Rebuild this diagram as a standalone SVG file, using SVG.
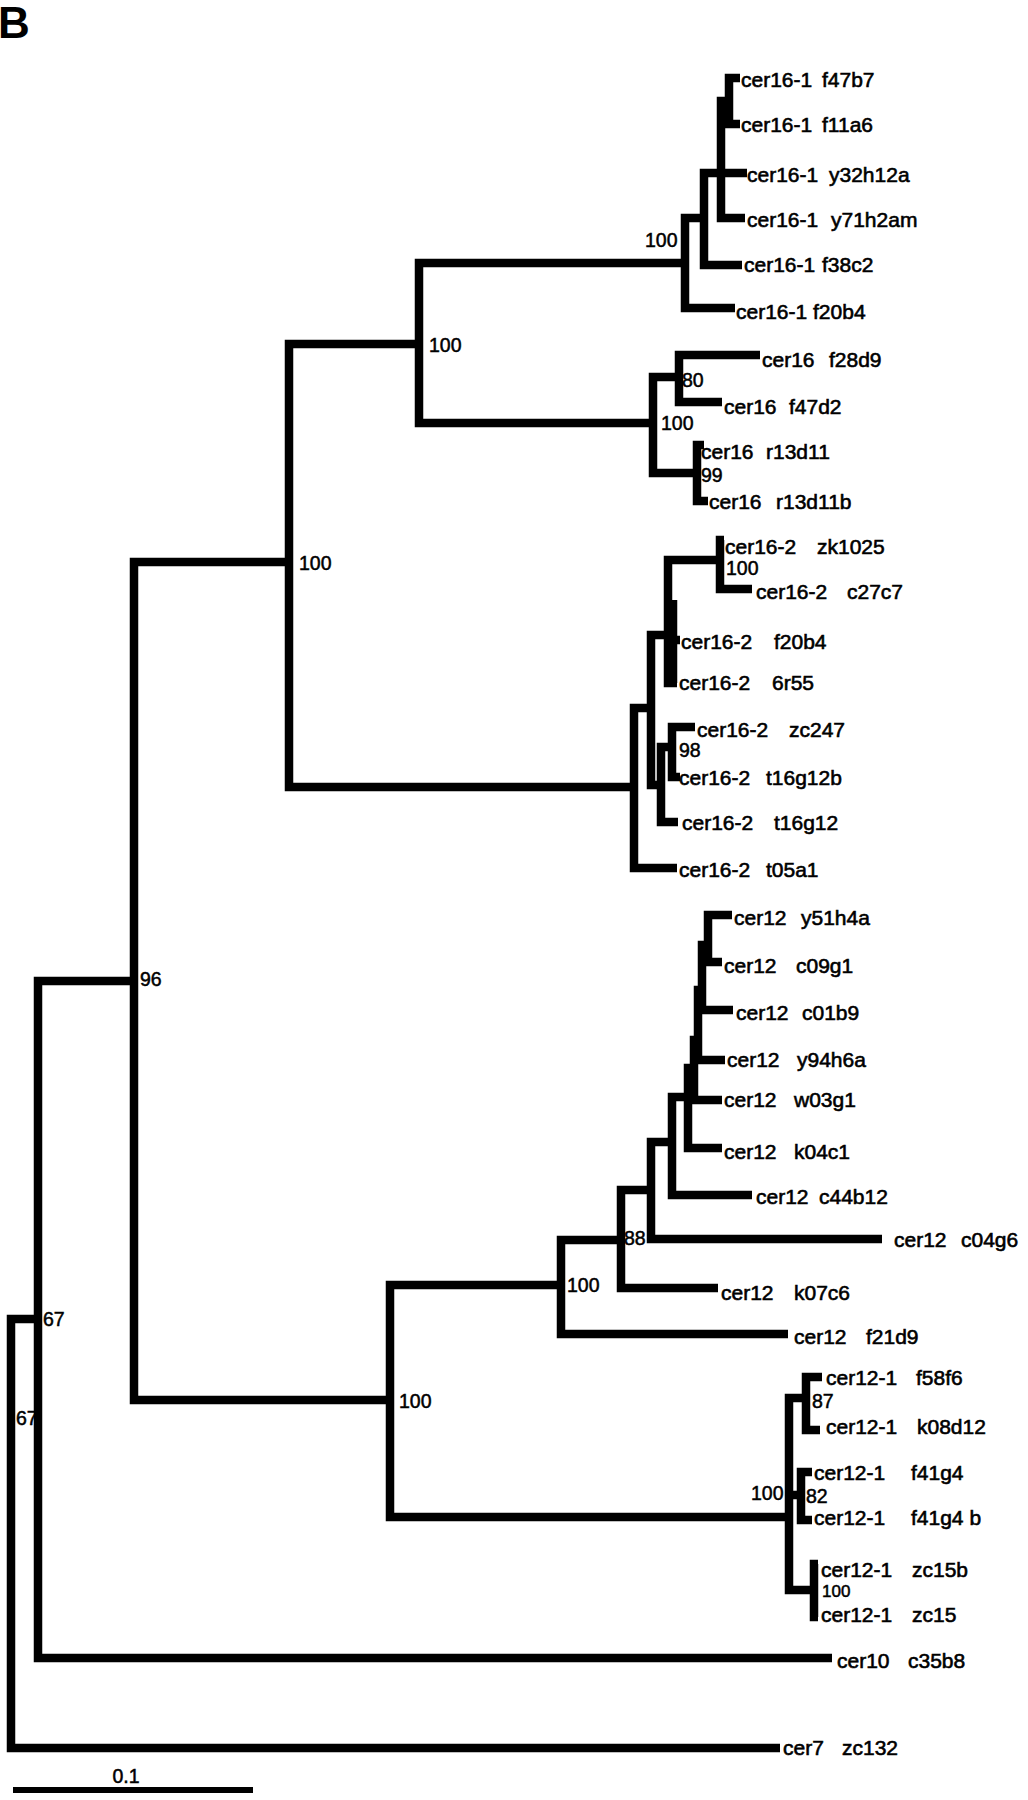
<svg xmlns="http://www.w3.org/2000/svg" width="1028" height="1800" viewBox="0 0 1028 1800">
<style>
.br{fill:none;stroke:#000;stroke-width:8.5;stroke-linejoin:miter;stroke-linecap:butt}
.lf{font-family:"Liberation Sans",Arial,sans-serif;font-size:21px;fill:#000;stroke:#000;stroke-width:0.6}
.bs{font-family:"Liberation Sans",Arial,sans-serif;font-size:19.5px;fill:#000;stroke:#000;stroke-width:0.5}
.ttl{font-family:"Liberation Sans",Arial,sans-serif;font-size:44px;font-weight:bold;fill:#000}
</style>
<rect width="1028" height="1800" fill="#fff"/>
<text class="ttl" x="-2" y="38">B</text>
<g id="connectors">
<path class="br" d="M 38 1319 H 11 V 1748 H 780"/>
<path class="br" d="M 134 981 H 38 V 1658 H 832"/>
<path class="br" d="M 289 562 H 134 V 1400 H 390"/>
<path class="br" d="M 419 344 H 289 V 787 H 634"/>
<path class="br" d="M 685 263 H 419 V 423 H 653"/>
<path class="br" d="M 704 218 H 685 V 308 H 735"/>
<path class="br" d="M 721 173 H 704 V 265 H 742"/>
<path class="br" d="M 729 101 H 721 V 218 H 745 M 721 173 H 747"/>
<path class="br" d="M 740 78 H 729 V 124 H 740"/>
<path class="br" d="M 679 377 H 653 V 473 H 697"/>
<path class="br" d="M 760 355 H 679 V 402 H 722"/>
<path class="br" d="M 704 445 H 697 V 501 H 708"/>
<path class="br" d="M 651 708 H 634 V 868 H 677"/>
<path class="br" d="M 668 635 H 651 V 785 H 661"/>
<path class="br" d="M 672 747 H 661 V 822 H 678"/>
<path class="br" d="M 695 727 H 672 V 777 H 680"/>
<path class="br" d="M 720 560 H 668 V 683 H 677 M 673 600 V 683 M 668 640 H 680"/>
<path class="br" d="M 724 540 H 720 V 589 H 752"/>
<path class="br" d="M 561 1285 H 390 V 1517 H 789"/>
<path class="br" d="M 621 1240 H 561 V 1334 H 788"/>
<path class="br" d="M 651 1190 H 621 V 1288 H 718"/>
<path class="br" d="M 672 1142 H 651 V 1239 H 882"/>
<path class="br" d="M 688 1097 H 672 V 1195 H 752"/>
<path class="br" d="M 694 1068 H 688 V 1148 H 722"/>
<path class="br" d="M 698 1040 H 694 V 1100 H 722"/>
<path class="br" d="M 702 990 H 698 V 1060 H 725"/>
<path class="br" d="M 708 945 H 702 V 1010 H 733"/>
<path class="br" d="M 732 915 H 708 V 962 H 722"/>
<path class="br" d="M 806 1398 H 789 V 1590 H 814 M 789 1495 H 801"/>
<path class="br" d="M 822 1377 H 806 V 1430 H 820"/>
<path class="br" d="M 812 1472 H 801 V 1520 H 812"/>
<path class="br" d="M 818 1564 H 814 V 1617 H 818"/>
</g>
<g id="scale-bar">
<line x1="13" y1="1790" x2="253" y2="1790" stroke="#000" stroke-width="6"/>
<text class="bs" x="126" y="1783" text-anchor="middle">0.1</text>
</g>
<g id="bootstrap">
<g id="bs-F"><text class="bs" x="645" y="247">100</text></g>
<g id="bs-A"><text class="bs" x="429" y="352">100</text></g>
<g id="bs-L"><text class="bs" x="682" y="387">80</text></g>
<g id="bs-K"><text class="bs" x="661" y="430">100</text></g>
<g id="bs-M"><text class="bs" x="701" y="482">99</text></g>
<g id="bs-D"><text class="bs" x="299" y="570">100</text></g>
<g id="bs-S"><text class="bs" x="726" y="575">100</text></g>
<g id="bs-R"><text class="bs" x="679" y="757">98</text></g>
<g id="bs-C"><text class="bs" x="140" y="986">96</text></g>
<g id="bs-V"><text class="bs" x="624" y="1245">88</text></g>
<g id="bs-U"><text class="bs" x="567" y="1292">100</text></g>
<g id="bs-E"><text class="bs" x="399" y="1408">100</text></g>
<g id="bs-B"><text class="bs" x="43" y="1326">67</text></g>
<g id="bs-root"><text class="bs" x="16" y="1425">67</text></g>
<g id="bs-AA"><text class="bs" x="812" y="1408">87</text></g>
<g id="bs-Z"><text class="bs" x="751" y="1500">100</text></g>
<g id="bs-BB"><text class="bs" x="806" y="1503">82</text></g>
<g id="bs-CC"><text class="bs" x="822" y="1597" style="font-size:17px">100</text></g>
</g>
<g id="leaves">
<g id="leaf-1"><text class="lf" x="741" y="87">cer16-1 <tspan x="822">f47b7</tspan></text></g>
<g id="leaf-2"><text class="lf" x="741" y="132">cer16-1 <tspan x="822">f11a6</tspan></text></g>
<g id="leaf-3"><text class="lf" x="747" y="182">cer16-1 <tspan x="829">y32h12a</tspan></text></g>
<g id="leaf-4"><text class="lf" x="747" y="227">cer16-1 <tspan x="831">y71h2am</tspan></text></g>
<g id="leaf-5"><text class="lf" x="744" y="272">cer16-1 <tspan x="822">f38c2</tspan></text></g>
<g id="leaf-6"><text class="lf" x="736" y="319">cer16-1 f20b4</text></g>
<g id="leaf-7"><text class="lf" x="762" y="367">cer16 <tspan x="829">f28d9</tspan></text></g>
<g id="leaf-8"><text class="lf" x="724" y="414">cer16 <tspan x="789">f47d2</tspan></text></g>
<g id="leaf-9"><text class="lf" x="701" y="459">cer16 <tspan x="766">r13d11</tspan></text></g>
<g id="leaf-10"><text class="lf" x="709" y="509">cer16 <tspan x="776">r13d11b</tspan></text></g>
<g id="leaf-11"><text class="lf" x="725" y="554">cer16-2 <tspan x="817">zk1025</tspan></text></g>
<g id="leaf-12"><text class="lf" x="756" y="599">cer16-2 <tspan x="847">c27c7</tspan></text></g>
<g id="leaf-13"><text class="lf" x="681" y="649">cer16-2 <tspan x="774">f20b4</tspan></text></g>
<g id="leaf-14"><text class="lf" x="679" y="690">cer16-2 <tspan x="772">6r55</tspan></text></g>
<g id="leaf-15"><text class="lf" x="697" y="737">cer16-2 <tspan x="789">zc247</tspan></text></g>
<g id="leaf-16"><text class="lf" x="679" y="785">cer16-2 <tspan x="766">t16g12b</tspan></text></g>
<g id="leaf-17"><text class="lf" x="682" y="830">cer16-2 <tspan x="774">t16g12</tspan></text></g>
<g id="leaf-18"><text class="lf" x="679" y="877">cer16-2 <tspan x="766">t05a1</tspan></text></g>
<g id="leaf-19"><text class="lf" x="734" y="925">cer12 <tspan x="801">y51h4a</tspan></text></g>
<g id="leaf-20"><text class="lf" x="724" y="973">cer12 <tspan x="796">c09g1</tspan></text></g>
<g id="leaf-21"><text class="lf" x="736" y="1020">cer12 <tspan x="802">c01b9</tspan></text></g>
<g id="leaf-22"><text class="lf" x="727" y="1067">cer12 <tspan x="797">y94h6a</tspan></text></g>
<g id="leaf-23"><text class="lf" x="724" y="1107">cer12 <tspan x="794">w03g1</tspan></text></g>
<g id="leaf-24"><text class="lf" x="724" y="1159">cer12 <tspan x="794">k04c1</tspan></text></g>
<g id="leaf-25"><text class="lf" x="756" y="1204">cer12 <tspan x="819">c44b12</tspan></text></g>
<g id="leaf-26"><text class="lf" x="894" y="1247">cer12 <tspan x="961">c04g6</tspan></text></g>
<g id="leaf-27"><text class="lf" x="721" y="1300">cer12 <tspan x="794">k07c6</tspan></text></g>
<g id="leaf-28"><text class="lf" x="794" y="1344">cer12 <tspan x="866">f21d9</tspan></text></g>
<g id="leaf-29"><text class="lf" x="826" y="1385">cer12-1 <tspan x="916">f58f6</tspan></text></g>
<g id="leaf-30"><text class="lf" x="826" y="1434">cer12-1 <tspan x="917">k08d12</tspan></text></g>
<g id="leaf-31"><text class="lf" x="814" y="1480">cer12-1 <tspan x="911">f41g4</tspan></text></g>
<g id="leaf-32"><text class="lf" x="814" y="1525">cer12-1 <tspan x="911">f41g4 b</tspan></text></g>
<g id="leaf-33"><text class="lf" x="821" y="1577">cer12-1 <tspan x="912">zc15b</tspan></text></g>
<g id="leaf-34"><text class="lf" x="821" y="1622">cer12-1 <tspan x="912">zc15</tspan></text></g>
<g id="leaf-35"><text class="lf" x="837" y="1668">cer10 <tspan x="908">c35b8</tspan></text></g>
<g id="leaf-36"><text class="lf" x="783" y="1755">cer7 <tspan x="842">zc132</tspan></text></g>
</g>
</svg>
